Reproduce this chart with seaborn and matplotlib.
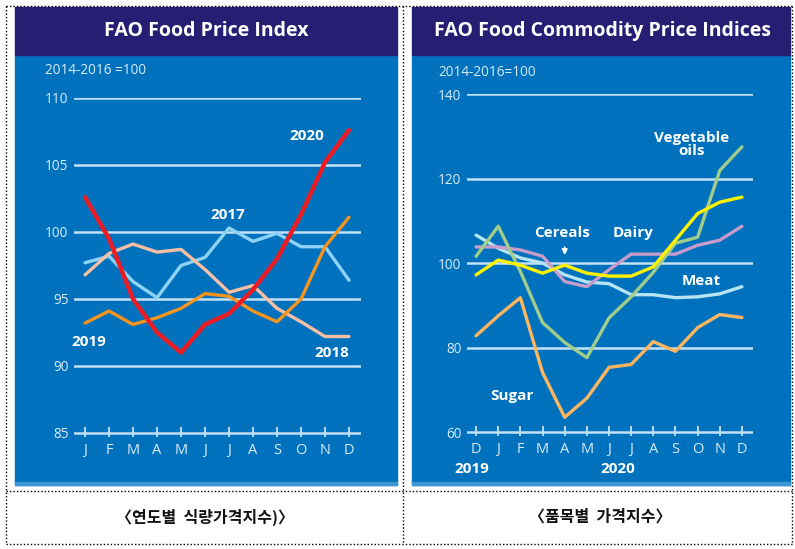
"""FAO food price index panels - two blue boards side by side with Korean captions."""

import matplotlib

matplotlib.use("Agg")
import matplotlib.pyplot as plt
import seaborn as sns
from matplotlib.lines import Line2D
from matplotlib.patches import Rectangle

W, H = 795, 549

# ---- data ----
months_year = ["J", "F", "M", "A", "M", "J", "J", "A", "S", "O", "N", "D"]
fpi_2017 = [97.7, 98.2, 96.3, 95.1, 97.5, 98.1, 100.3, 99.3, 99.9, 98.9, 98.9, 96.4]
fpi_2018 = [96.8, 98.4, 99.1, 98.5, 98.7, 97.2, 95.5, 96.0, 94.3, 93.3, 92.2, 92.2]
fpi_2019 = [93.2, 94.1, 93.1, 93.6, 94.3, 95.4, 95.2, 94.1, 93.3, 95.0, 98.9, 101.1]
fpi_2020 = [102.6, 99.5, 95.0, 92.5, 91.0, 93.1, 93.9, 95.7, 98.0, 101.3, 105.2, 107.6]

months_span = ["D", "J", "F", "M", "A", "M", "J", "J", "A", "S", "O", "N", "D"]
veg_oils = [101.6, 108.7, 98.0, 85.9, 81.2, 77.6, 87.0, 92.0, 97.8, 104.7, 106.1, 121.9, 127.5]
cereals = [97.2, 100.7, 99.5, 97.6, 99.5, 97.6, 96.9, 96.9, 99.1, 105.4, 111.7, 114.4, 115.6]
dairy = [103.8, 103.8, 103.1, 101.6, 95.6, 94.4, 98.4, 102.1, 102.1, 102.1, 104.2, 105.4, 108.7]
meat = [106.6, 103.5, 101.2, 100.0, 97.2, 95.5, 95.1, 92.5, 92.5, 91.8, 92.0, 92.7, 94.4]
sugar = [82.8, 87.5, 91.8, 74.1, 63.5, 68.0, 75.3, 76.0, 81.4, 79.1, 84.7, 87.8, 87.1]

captions = ["〈연도별  식량가격지수)〉", "〈품목별  가격지수〉"]

# ---- colours ----
BLUE, NAVY = "#0071BC", "#261E73"
GRID, TICK = "#C4E2F5", "#D8ECF9"

sns.set_theme(style="white")
plt.rcParams["font.family"] = ["Open Sans", "DejaVu Sans"]

fig = plt.figure(figsize=(W / 100, H / 100), dpi=100)
fig.patch.set_facecolor("white")


def frac(x0, y0, x1, y1):
    return [x0 / W, 1 - y1 / H, (x1 - x0) / W, (y1 - y0) / H]


def rect(x0, y0, x1, y1, color):
    l, b, w, h = frac(x0, y0, x1, y1)
    fig.add_artist(Rectangle((l, b), w, h, transform=fig.transFigure, color=color, zorder=0))


def dotted(x0, y0, x1, y1):
    fig.add_artist(Line2D([x0 / W, x1 / W], [1 - y0 / H, 1 - y1 / H], transform=fig.transFigure,
                          color="black", lw=1, ls=(0, (1, 1.5))))


# table frame
dotted(6, 6, 792, 6)
dotted(6, 544, 792, 544)
dotted(6, 6, 6, 544)
dotted(792, 6, 792, 544)
dotted(403, 6, 403, 544)
dotted(6, 491, 792, 491)

# boards
for x0, x1 in [(15, 397), (412, 790)]:
    rect(x0, 55, x1, 485, BLUE)
    rect(x0, 482, x1, 485, "#3C95D2")
    rect(x0, 7, x1, 55, NAVY)

fig.text(206 / W, 1 - 31 / H, "FAO Food Price Index", color="white", fontsize=14,
         fontweight="bold", ha="center", va="center")
fig.text(603 / W, 1 - 31 / H, "FAO Food Commodity Price Indices", color="white", fontsize=14,
         fontweight="bold", ha="center", va="center")
fig.text(45 / W, 1 - 71 / H, "2014-2016 =100", color=TICK, fontsize=9.8, va="center")
fig.text(438 / W, 1 - 72 / H, "2014-2016=100", color=TICK, fontsize=9.8, va="center")


def style(ax, yticks, labels):
    ax.set_facecolor("none")
    for s in ax.spines.values():
        s.set_visible(False)
    ax.set_yticks(yticks)
    ax.set_xticks(range(len(labels)))
    ax.set_xticklabels(labels)
    ax.yaxis.grid(True, color=GRID, lw=1.8)
    ax.xaxis.grid(False)
    ax.tick_params(axis="y", left=False, length=0, pad=4, labelsize=9.8, labelcolor=TICK)
    ax.tick_params(axis="x", bottom=True, direction="in", length=7, width=1.3, color=GRID,
                   pad=4, labelsize=10.5, labelcolor=TICK)
    ax.set_xlabel("")
    ax.set_ylabel("")


# ---- left: food price index by year ----
ax1 = fig.add_axes(frac(74, 98, 361, 437))
x12 = list(range(12))
for vals, col, lw in [(fpi_2017, "#8ED3F6", 2.4), (fpi_2018, "#F8BFA4", 2.4),
                      (fpi_2019, "#F7941E", 2.4), (fpi_2020, "#EC1C24", 3.2)]:
    sns.lineplot(x=x12, y=vals, color=col, lw=lw, ax=ax1)
ax1.set_xlim(-0.46, 11.5)
ax1.set_ylim(84.7, 110)
style(ax1, [85, 90, 95, 100, 105, 110], months_year)

lab = dict(color="white", fontsize=11, fontweight="bold", ha="center", va="center")
ax1.text(9.25, 107.2, "2020", **lab)
ax1.text(5.96, 101.3, "2017", **lab)
ax1.text(0.17, 91.8, "2019", **lab)
ax1.text(10.3, 91.0, "2018", **lab)

# ---- right: commodity indices ----
ax2 = fig.add_axes(frac(467, 94, 753, 436))
x13 = list(range(13))
for vals, col in [(sugar, "#FDB560"), (meat, "#B6E4F2"), (dairy, "#C79BCB"),
                  (veg_oils, "#A0CD8C"), (cereals, "#FFF200")]:
    sns.lineplot(x=x13, y=vals, color=col, lw=2.4, ax=ax2)
ax2.set_xlim(-0.41, 12.5)
ax2.set_ylim(59.06, 140)
style(ax2, [60, 80, 100, 120, 140], months_span)

ax2.text(9.73, 128.0, "Vegetable\noils", linespacing=0.9, **lab)
ax2.text(3.9, 107.1, "Cereals", **lab)
ax2.text(7.09, 107.1, "Dairy", **lab)
ax2.text(10.18, 95.8, "Meat", **lab)
ax2.text(1.64, 68.5, "Sugar", **lab)
ax2.annotate("", xy=(4.0, 101.2), xytext=(4.0, 104.4),
             arrowprops=dict(arrowstyle="-|>", color="white", lw=1.2, mutation_scale=8))

fig.text(472 / W, 1 - 469 / H, "2019", color="white", fontsize=11, fontweight="bold",
         ha="center", va="center")
fig.text(618 / W, 1 - 469 / H, "2020", color="white", fontsize=11, fontweight="bold",
         ha="center", va="center")

# ---- captions ----
for xc, txt in zip([205, 600], captions):
    fig.text(xc / W, 1 - 517 / H, txt, fontsize=11.5, fontweight="bold", ha="center",
             va="center", color="#111111", family=["Noto Sans CJK KR", "DejaVu Sans"])

fig.savefig("out.png", dpi=100)
